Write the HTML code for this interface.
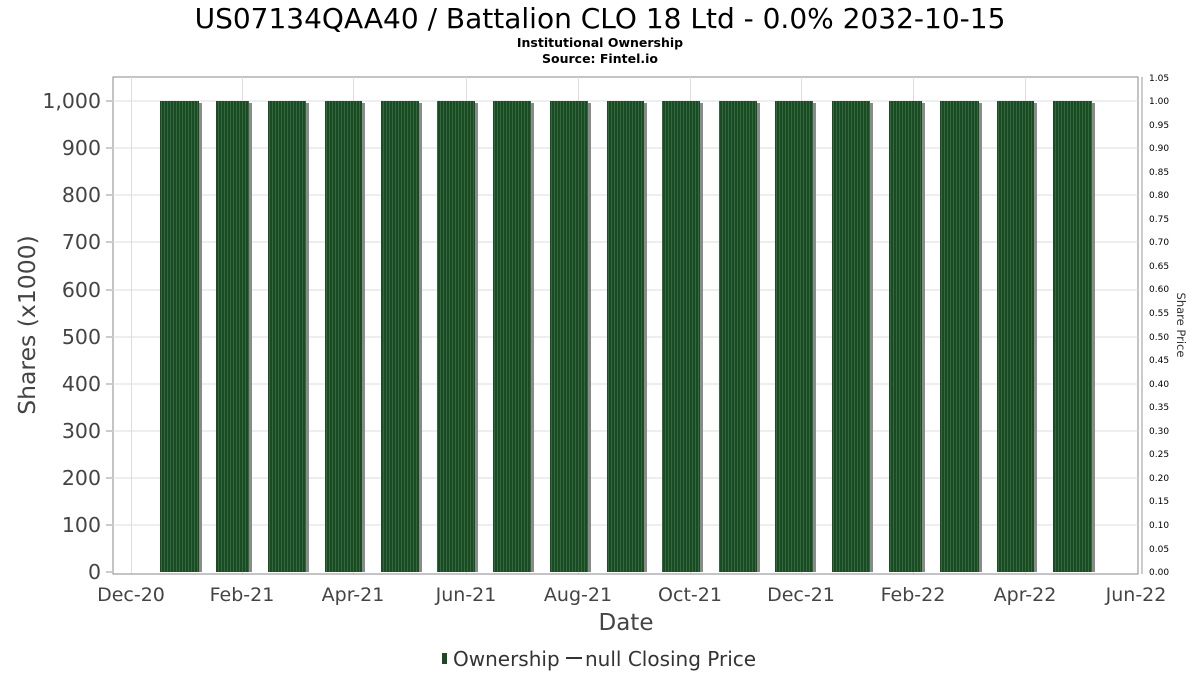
<!DOCTYPE html>
<html><head><meta charset="utf-8"><style>
body{margin:0;background:#fff;}
svg text{font-family:"DejaVu Sans","Liberation Sans",sans-serif;}
</style></head><body>
<svg width="1200" height="675" xmlns="http://www.w3.org/2000/svg">
<defs>
<pattern id="st" width="3" height="10" patternUnits="userSpaceOnUse">
<rect width="3" height="10" fill="#1c4a25"/>
<rect x="2" width="1" height="10" fill="#2f6a3a"/>
</pattern>
</defs>
<text x="600" y="28" font-size="28" text-anchor="middle" fill="#000">US07134QAA40 / Battalion CLO 18 Ltd - 0.0% 2032-10-15</text>
<text x="600" y="47" font-size="12.5" font-weight="bold" text-anchor="middle" fill="#000">Institutional Ownership</text>
<text x="600" y="63" font-size="12.5" font-weight="bold" text-anchor="middle" fill="#000">Source: Fintel.io</text>
<rect x="113" y="77" width="1025" height="497" fill="#fff" stroke="#888" stroke-width="1"/>
<g stroke="#ddd" stroke-width="1">
<line x1="113" x2="1138" y1="525" y2="525"/><line x1="113" x2="1138" y1="478" y2="478"/>
<line x1="113" x2="1138" y1="431" y2="431"/><line x1="113" x2="1138" y1="384" y2="384"/>
<line x1="113" x2="1138" y1="337" y2="337"/><line x1="113" x2="1138" y1="290" y2="290"/>
<line x1="113" x2="1138" y1="242" y2="242"/><line x1="113" x2="1138" y1="195" y2="195"/>
<line x1="113" x2="1138" y1="148" y2="148"/><line x1="113" x2="1138" y1="101" y2="101"/>
<line x1="131.5" x2="131.5" y1="77" y2="574"/><line x1="242.5" x2="242.5" y1="77" y2="574"/>
<line x1="353.5" x2="353.5" y1="77" y2="574"/><line x1="466.5" x2="466.5" y1="77" y2="574"/>
<line x1="578.5" x2="578.5" y1="77" y2="574"/><line x1="690.5" x2="690.5" y1="77" y2="574"/>
<line x1="801.5" x2="801.5" y1="77" y2="574"/><line x1="913.5" x2="913.5" y1="77" y2="574"/>
<line x1="1025.5" x2="1025.5" y1="77" y2="574"/>
</g>
<g>
<g fill="#8a8a8a">
<rect x="162" y="103" width="40" height="469"/><rect x="219" y="103" width="33" height="469"/>
<rect x="271" y="103" width="38" height="469"/><rect x="328" y="103" width="37" height="469"/>
<rect x="384" y="103" width="38" height="469"/><rect x="440" y="103" width="38" height="469"/>
<rect x="496" y="103" width="38" height="469"/><rect x="553" y="103" width="38" height="469"/>
<rect x="610" y="103" width="37" height="469"/><rect x="665" y="103" width="38" height="469"/>
<rect x="722" y="103" width="38" height="469"/><rect x="778" y="103" width="38" height="469"/>
<rect x="835" y="103" width="38" height="469"/><rect x="892" y="103" width="33" height="469"/>
<rect x="943" y="103" width="39" height="469"/><rect x="1000" y="103" width="37" height="469"/>
<rect x="1056" y="103" width="39" height="469"/>
</g>
<g fill="url(#st)">
<rect x="160" y="101" width="39" height="471"/><rect x="216" y="101" width="33" height="471"/>
<rect x="268" y="101" width="38" height="471"/><rect x="325" y="101" width="37" height="471"/>
<rect x="381" y="101" width="38" height="471"/><rect x="437" y="101" width="38" height="471"/>
<rect x="493" y="101" width="38" height="471"/><rect x="550" y="101" width="38" height="471"/>
<rect x="607" y="101" width="37" height="471"/><rect x="662" y="101" width="38" height="471"/>
<rect x="719" y="101" width="38" height="471"/><rect x="775" y="101" width="38" height="471"/>
<rect x="832" y="101" width="38" height="471"/><rect x="889" y="101" width="33" height="471"/>
<rect x="940" y="101" width="39" height="471"/><rect x="997" y="101" width="37" height="471"/>
<rect x="1053" y="101" width="39" height="471"/>
</g>
</g>
<line x1="113" x2="1138" y1="574" y2="574" stroke="#888"/>
<g font-size="20.5" fill="#444" text-anchor="end">
<text x="101" y="579">0</text><text x="101" y="532">100</text><text x="101" y="485">200</text>
<text x="101" y="438">300</text><text x="101" y="391">400</text><text x="101" y="344">500</text>
<text x="101" y="297">600</text><text x="101" y="249">700</text><text x="101" y="202">800</text>
<text x="101" y="155">900</text><text x="101" y="108">1,000</text>
</g>
<g stroke="#999">
<line x1="106" x2="112" y1="572" y2="572"/><line x1="106" x2="112" y1="525" y2="525"/>
<line x1="106" x2="112" y1="478" y2="478"/><line x1="106" x2="112" y1="431" y2="431"/>
<line x1="106" x2="112" y1="384" y2="384"/><line x1="106" x2="112" y1="337" y2="337"/>
<line x1="106" x2="112" y1="290" y2="290"/><line x1="106" x2="112" y1="242" y2="242"/>
<line x1="106" x2="112" y1="195" y2="195"/><line x1="106" x2="112" y1="148" y2="148"/>
<line x1="106" x2="112" y1="101" y2="101"/>
<line x1="1142" x2="1142" y1="77" y2="574"/>
</g>
<g font-size="19" fill="#444" text-anchor="middle">
<text x="131" y="601">Dec-20</text><text x="242" y="601">Feb-21</text><text x="353" y="601">Apr-21</text>
<text x="466" y="601">Jun-21</text><text x="578" y="601">Aug-21</text><text x="690" y="601">Oct-21</text>
<text x="801" y="601">Dec-21</text><text x="913" y="601">Feb-22</text><text x="1025" y="601">Apr-22</text>
<text x="1136" y="601">Jun-22</text>
</g>
<text x="626" y="630" font-size="23" fill="#444" text-anchor="middle">Date</text>
<text transform="translate(35,325) rotate(-90)" font-size="23.5" fill="#444" text-anchor="middle">Shares (x1000)</text>
<text transform="translate(1177,325) rotate(90)" font-size="11.5" fill="#333" text-anchor="middle">Share Price</text>
<g font-size="9" fill="#000">
<text x="1149" y="575">0.00</text><text x="1149" y="552">0.05</text><text x="1149" y="528">0.10</text>
<text x="1149" y="504">0.15</text><text x="1149" y="481">0.20</text><text x="1149" y="457">0.25</text>
<text x="1149" y="434">0.30</text><text x="1149" y="410">0.35</text><text x="1149" y="387">0.40</text>
<text x="1149" y="363">0.45</text><text x="1149" y="340">0.50</text><text x="1149" y="316">0.55</text>
<text x="1149" y="292">0.60</text><text x="1149" y="269">0.65</text><text x="1149" y="245">0.70</text>
<text x="1149" y="222">0.75</text><text x="1149" y="198">0.80</text><text x="1149" y="175">0.85</text>
<text x="1149" y="151">0.90</text><text x="1149" y="128">0.95</text><text x="1149" y="104">1.00</text>
<text x="1149" y="81">1.05</text>
</g>
<rect x="442" y="653" width="5" height="11" fill="#1c4a25"/>
<text x="453" y="666" font-size="20" fill="#333">Ownership</text>
<line x1="566" x2="582" y1="658" y2="658" stroke="#333" stroke-width="2"/>
<text x="585" y="666" font-size="20" fill="#333">null Closing Price</text>
</svg>
</body></html>
